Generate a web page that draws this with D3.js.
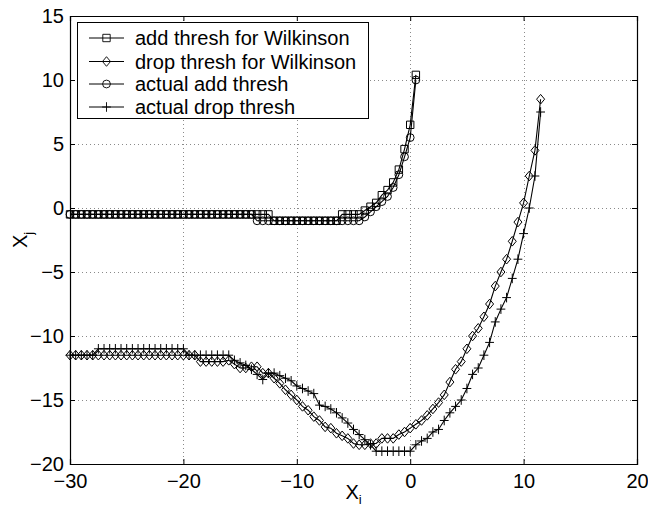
<!DOCTYPE html>
<html>
<head>
<meta charset="utf-8">
<script src="https://cdn.jsdelivr.net/npm/d3@7"></script>
<style>
  body { margin: 0; background: #fff; }
  svg { display: block; font-family: 'Liberation Sans', Arial, sans-serif; }
</style>
</head>
<body>
<svg id="chart" width="648" height="510"></svg>
<script>
// x positions shared by all four curves (add curves use the first 62)
const xGrid = [-30, -29.5, -29, -28.5, -28, -27.5, -27, -26.5, -26, -25.5,
  -25, -24.5, -24, -23.5, -23, -22.5, -22, -21.5, -21, -20.5,
  -20, -19.5, -19, -18.5, -18, -17.5, -17, -16.5, -16, -15.5,
  -15, -14.5, -14, -13.5, -13, -12.5, -12, -11.5, -11, -10.5,
  -10, -9.5, -9, -8.5, -8, -7.5, -7, -6.5, -6, -5.5,
  -5, -4.5, -4, -3.5, -3, -2.5, -2, -1.5, -1, -0.5,
  0, 0.5, 1, 1.5, 2, 2.5, 3, 3.5, 4, 4.5,
  5, 5.5, 6, 6.5, 7, 7.5, 8, 8.5, 9, 9.5,
  10, 10.5, 11, 11.5];

const addWilkinson = [-0.5, -0.5, -0.5, -0.5, -0.5, -0.5, -0.5, -0.5, -0.5, -0.5,
  -0.5, -0.5, -0.5, -0.5, -0.5, -0.5, -0.5, -0.5, -0.5, -0.5,
  -0.5, -0.5, -0.5, -0.5, -0.5, -0.5, -0.5, -0.5, -0.5, -0.5,
  -0.5, -0.5, -0.5, -0.5, -0.5, -0.5, -1, -1, -1, -1,
  -1, -1, -1, -1, -1, -1, -1, -1, -0.5, -0.5,
  -0.5, -0.5, -0.2, 0.1, 0.4, 1.0, 1.4, 2.0, 3.0, 4.6,
  6.5, 10.4];

const addActual = [-0.5, -0.5, -0.5, -0.5, -0.5, -0.5, -0.5, -0.5, -0.5, -0.5,
  -0.5, -0.5, -0.5, -0.5, -0.5, -0.5, -0.5, -0.5, -0.5, -0.5,
  -0.5, -0.5, -0.5, -0.5, -0.5, -0.5, -0.5, -0.5, -0.5, -0.5,
  -0.5, -0.5, -0.5, -1, -1, -1, -1, -1, -1, -1,
  -1, -1, -1, -1, -1, -1, -1, -1, -1, -1,
  -1, -1, -0.7, -0.3, 0.1, 0.5, 0.9, 1.6, 2.6, 4.0,
  5.5, 10.0];

const dropWilkinson = [-11.5, -11.5, -11.5, -11.5, -11.5, -11.5, -11.5, -11.5, -11.5, -11.5,
  -11.5, -11.5, -11.5, -11.5, -11.5, -11.5, -11.5, -11.5, -11.5, -11.5,
  -11.5, -11.5, -11.5, -12, -12, -12, -12, -12, -11.9, -12.2,
  -12.5, -12.5, -12.4, -12.4, -12.9, -12.9, -13.3, -13.7, -14.2, -14.6,
  -15.0, -15.5, -15.8, -16.3, -16.6, -17.1, -17.2, -17.6, -17.8, -18.0,
  -18.4, -18.5, -18.5, -18.4, -18.4, -18.0, -18.0, -18.0, -17.7, -17.5,
  -17.2, -16.9, -16.6, -16.2, -15.7, -15.2, -14.6, -13.6, -12.6, -12.0,
  -11.0, -10.0, -9.4, -8.5, -7.5, -6.1, -5.0, -4.0, -2.6, -1.1,
  0.4, 2.5, 4.5, 8.5];

const dropActual = [-11.5, -11.5, -11.5, -11.5, -11.5, -11, -11, -11, -11, -11,
  -11, -11, -11, -11, -11, -11, -11, -11, -11, -11,
  -11, -11.5, -11.5, -11.5, -11.5, -11.5, -11.5, -11.5, -11.5, -11.9,
  -12.1, -12.3, -12.6, -13.0, -13.4, -12.9, -12.9, -13.1, -13.3, -13.5,
  -13.9, -14.1, -14.3, -14.5, -15.4, -15.5, -15.7, -16.0, -16.4, -16.8,
  -17.3, -17.7, -18.1, -18.5, -19, -19, -19, -19, -19, -19,
  -19, -18.5, -18.2, -18.0, -17.5, -17.3, -16.6, -16.0, -15.5, -15.0,
  -14.1, -13.0, -12.5, -11.5, -10.5, -8.9, -7.9, -7.0, -5.5, -4.0,
  -2.0, 0.0, 2.5, 7.5];

const seriesNames = ["add thresh for Wilkinson", "drop thresh for Wilkinson",
  "actual add thresh", "actual drop thresh"];
const seriesMarkers = ["square", "diamond", "circle", "plus"];
const seriesValues = [addWilkinson, dropWilkinson, addActual, dropActual];

const xTicks = [-30, -20, -10, 0, 10, 20];
const yTicks = [-20, -15, -10, -5, 0, 5, 10, 15];

const width = 648, height = 510;
const margin = {top: 16, right: 11, bottom: 46, left: 70};

const svg = d3.select("#chart");

const x = d3.scaleLinear().domain([-30, 20]).range([margin.left, width - margin.right]);
const y = d3.scaleLinear().domain([-20, 15]).range([height - margin.bottom, margin.top]);

const fmt = d => d < 0 ? "\u2212" + Math.abs(d) : "" + d;

// dotted grid
const grid = svg.append("g").attr("stroke", "#8a8a8a").attr("stroke-width", 1)
  .attr("stroke-dasharray", "1,3");
grid.selectAll(".gx").data(xTicks.slice(1, -1)).enter().append("line")
  .attr("x1", d => Math.round(x(d)) + 0.5).attr("x2", d => Math.round(x(d)) + 0.5)
  .attr("y1", y(15)).attr("y2", y(-20));
grid.selectAll(".gy").data(yTicks.slice(1, -1)).enter().append("line")
  .attr("y1", d => Math.round(y(d)) + 0.5).attr("y2", d => Math.round(y(d)) + 0.5)
  .attr("x1", x(-30)).attr("x2", x(20));

// axes, ticks inward on all four sides like matlab
const tickLen = 5;
const axB = svg.append("g").attr("transform", `translate(0,${y(-20)})`)
  .call(d3.axisBottom(x).tickValues(xTicks).tickSize(-tickLen).tickPadding(10).tickFormat(fmt));
const axT = svg.append("g").attr("transform", `translate(0,${y(15)})`)
  .call(d3.axisTop(x).tickValues(xTicks).tickSize(-tickLen).tickFormat(""));
const axL = svg.append("g").attr("transform", `translate(${x(-30)},0)`)
  .call(d3.axisLeft(y).tickValues(yTicks).tickSize(-tickLen).tickPadding(6).tickFormat(fmt));
const axR = svg.append("g").attr("transform", `translate(${x(20)},0)`)
  .call(d3.axisRight(y).tickValues(yTicks).tickSize(-tickLen).tickFormat(""));

[axB, axT, axL, axR].forEach(a => {
  a.select(".domain").attr("stroke", "#000").attr("stroke-width", 1.2);
  a.selectAll(".tick line").attr("stroke", "#000");
  a.selectAll("text").attr("font-size", 20).attr("fill", "#000")
    .attr("font-family", "'Liberation Sans', Arial, sans-serif");
});

// markers
function markerPath(type, cx, cy) {
  const p = d3.path();
  if (type === "square") {
    p.rect(cx - 3.7, cy - 3.7, 7.4, 7.4);
  } else if (type === "circle") {
    p.moveTo(cx + 3.9, cy);
    p.arc(cx, cy, 3.9, 0, 2 * Math.PI);
  } else if (type === "diamond") {
    p.moveTo(cx, cy - 4.8);
    p.lineTo(cx + 4, cy);
    p.lineTo(cx, cy + 4.8);
    p.lineTo(cx - 4, cy);
    p.closePath();
  } else if (type === "plus") {
    p.moveTo(cx - 4.4, cy); p.lineTo(cx + 4.4, cy);
    p.moveTo(cx, cy - 4.8); p.lineTo(cx, cy + 4.8);
  }
  return p.toString();
}

const line = d3.line().x(d => x(d[0])).y(d => y(d[1]));

const plot = svg.append("g");
seriesValues.forEach((vals, i) => {
  const pts = vals.map((v, k) => [xGrid[k], v]);
  plot.append("path").datum(pts)
    .attr("fill", "none").attr("stroke", "#000").attr("stroke-width", 1.1)
    .attr("d", line);
  plot.append("g").selectAll("path").data(pts).enter().append("path")
    .attr("fill", "none").attr("stroke", "#000").attr("stroke-width", 1)
    .attr("d", d => markerPath(seriesMarkers[i], x(d[0]), y(d[1])));
});

// legend
const legend = svg.append("g");
legend.append("rect").attr("x", 77.5).attr("y", 22.5).attr("width", 291).attr("height", 96)
  .attr("fill", "#fff").attr("stroke", "#000").attr("stroke-width", 1);
const rowY = [38, 61.5, 84, 107];
seriesNames.forEach((name, i) => {
  const g = legend.append("g");
  g.append("line").attr("x1", 89).attr("x2", 124).attr("y1", rowY[i]).attr("y2", rowY[i])
    .attr("stroke", "#000").attr("stroke-width", 1);
  g.append("path").attr("d", markerPath(seriesMarkers[i], 106.5, rowY[i]))
    .attr("fill", "none").attr("stroke", "#000").attr("stroke-width", 0.9);
  g.append("text").attr("x", 135).attr("y", rowY[i]).attr("dy", "0.35em")
    .attr("font-size", 20).attr("fill", "#000").text(name);
});

// axis labels
const xl = svg.append("text").attr("x", (x(-30) + x(20)) / 2).attr("y", 499)
  .attr("text-anchor", "middle").attr("font-size", 20);
xl.append("tspan").text("X");
xl.append("tspan").attr("dy", 5).attr("font-size", 13).text("i");

const yl = svg.append("text")
  .attr("transform", `translate(27,${(y(15) + y(-20)) / 2}) rotate(-90)`)
  .attr("text-anchor", "middle").attr("font-size", 20);
yl.append("tspan").text("X");
yl.append("tspan").attr("dy", 6).attr("font-size", 13).text("j");
</script>
</body>
</html>
